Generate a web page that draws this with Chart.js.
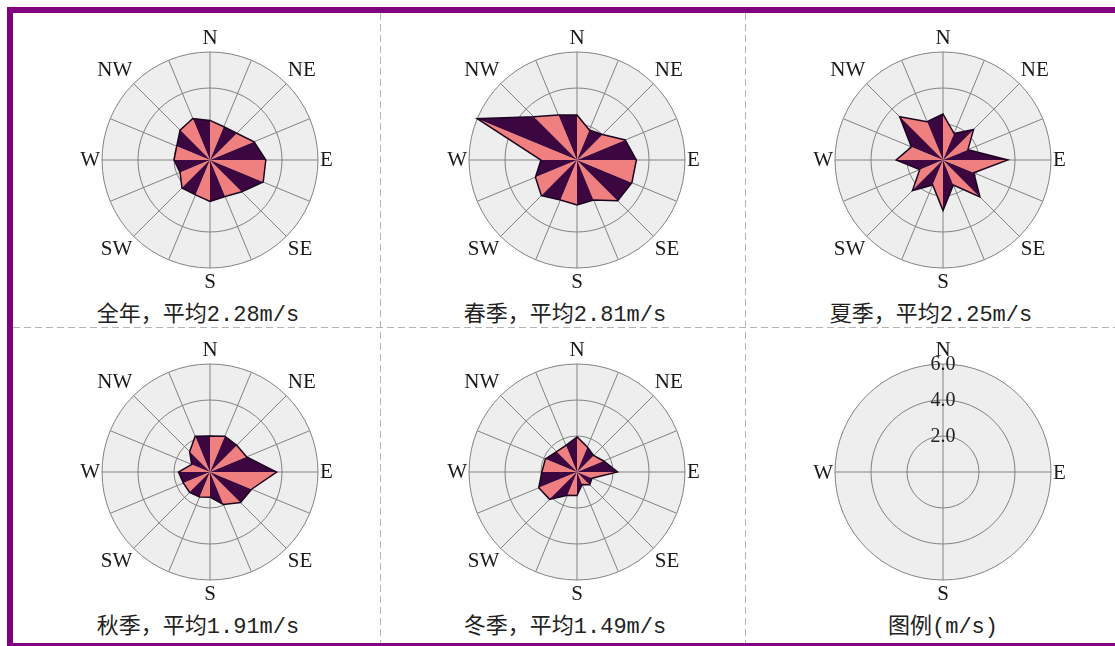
<!DOCTYPE html>
<html>
<head>
<meta charset="utf-8">
<script src="https://cdn.jsdelivr.net/npm/chart.js@4.4.0/dist/chart.umd.min.js"></script>
<style>
  html, body { margin: 0; padding: 0; background: #fff; overflow: hidden; }
  body { width: 1115px; height: 646px; position: relative; }
  #frame {
    position: absolute; left: 7px; top: 7px;
    width: 1112px; height: 630px;
    border: 6px solid #800080; background: #fff;
  }
  .vdash, .hdash { position: absolute; }
  .vdash {
    top: 13px; height: 630px; width: 1px;
    background: repeating-linear-gradient(to bottom, #b4b4b4 0 7px, transparent 7px 11px);
  }
  .hdash {
    left: 13px; width: 1102px; height: 1px; top: 327px;
    background: repeating-linear-gradient(to right, #b4b4b4 0 7px, transparent 7px 11px);
  }
  canvas { position: absolute; z-index: 2; }
  .cap {
    position: absolute; width: 320px; text-align: center;
    font: 22px/26px 'Liberation Mono', 'Noto Sans CJK SC', monospace;
    color: #222; white-space: nowrap;
  }
</style>
</head>
<body>
<div id="frame"></div>
<div class="vdash" style="left:380px"></div>
<div class="vdash" style="left:745px"></div>
<div class="hdash"></div>

<script>
// wind directions, clockwise from north
const dirs = ['N', 'NNE', 'NE', 'ENE', 'E', 'ESE', 'SE', 'SSE',
              'S', 'SSW', 'SW', 'WSW', 'W', 'WNW', 'NW', 'NNW'];

const seasons = ['全年', '春季', '夏季', '秋季', '冬季'];
const means = [2.28, 2.81, 2.25, 1.91, 1.49];

// mean wind speed per direction (m/s)
const annual = [2.2, 2.0, 2.1, 2.65, 3.1, 3.2, 2.5, 2.2, 2.3, 2.1, 2.2, 1.8, 2.0, 2.0, 2.35, 2.5];
const spring = [2.5, 1.8, 2.0, 2.9, 3.3, 3.3, 3.2, 2.4, 2.5, 2.4, 2.8, 2.5, 2.0, 6.0, 3.4, 2.7];
const summer = [2.55, 1.6, 2.4, 1.5, 3.6, 1.85, 2.9, 1.5, 2.8, 1.5, 2.4, 1.4, 2.6, 1.9, 3.4, 2.3];
const autumn = [2.0, 2.15, 2.1, 2.2, 3.7, 2.5, 2.4, 1.95, 1.4, 1.5, 1.6, 1.6, 1.75, 1.1, 1.6, 2.15];
const winter = [1.95, 1.5, 1.3, 1.6, 2.25, 0.9, 1.0, 0.75, 1.3, 1.4, 2.15, 2.3, 1.95, 1.9, 1.6, 1.6];
const speeds = [annual, spring, summer, autumn, winter];

// key panel
const keyDirs = ['N', 'E', 'S', 'W'];
const keyTitle = '图例(m/s)';
const speedMax = 6;
const speedStep = 2;

const centers = [[210, 160], [577, 160], [943, 160], [210, 472], [577, 472], [943, 472]];
const pink = '#f08080';
const plum = '#3c0641';
const serif = "'Liberation Serif', 'Times New Roman', serif";

function radialScale(showNames) {
  return {
    r: {
      min: 0,
      max: speedMax,
      backgroundColor: '#eeeeee',
      grid: { circular: true, color: '#828282', lineWidth: 1 },
      angleLines: { color: '#828282', lineWidth: 1 },
      ticks: { display: false, stepSize: speedStep },
      pointLabels: {
        display: showNames,
        padding: 2,
        color: '#1a1a1a',
        font: { family: serif, size: 21, lineHeight: '24px' },
        // only the eight main points get a name
        callback: l => (l.length <= 2 ? l : '')
      }
    }
  };
}

// the key writes its own compass names and ring values
const keyText = {
  id: 'keyText',
  afterDraw(chart) {
    const s = chart.scales.r;
    const ctx = chart.ctx;
    const names = chart.data.labels;
    ctx.save();
    ctx.fillStyle = '#1a1a1a';
    ctx.textBaseline = 'middle';
    ctx.font = "21px 'Liberation Serif', serif";
    names.forEach((name, i) => {
      const p = s.getPointPosition(i, s.drawingArea + 2);
      if (name === 'N') {
        ctx.textAlign = 'center';
        ctx.fillText(name, p.x, p.y - 12);
      } else if (name === 'S') {
        ctx.textAlign = 'center';
        ctx.fillText(name, p.x, p.y + 12);
      } else {
        ctx.textAlign = name === 'E' ? 'left' : 'right';
        ctx.fillText(name, p.x, p.y + 1);
      }
    });
    ctx.font = "20px 'Liberation Serif', serif";
    ctx.fillStyle = '#222';
    ctx.textAlign = 'center';
    s.ticks.forEach(t => {
      if (t.value <= 0) return;
      const d = s.getDistanceFromCenterForValue(t.value);
      ctx.fillText(t.value.toFixed(1), s.xCenter, s.yCenter - d + 1);
    });
    ctx.restore();
  }
};

function baseOptions(showNames) {
  return {
    responsive: false,
    animation: false,
    events: [],
    plugins: { legend: { display: false }, tooltip: { enabled: false } },
    scales: radialScale(showNames)
  };
}

function addCanvas(x, y, w, h) {
  const c = document.createElement('canvas');
  c.width = w;
  c.height = h;
  c.style.left = x + 'px';
  c.style.top = y + 'px';
  document.body.appendChild(c);
  return c.getContext('2d');
}

function addCaption(text, cx, cy) {
  const d = document.createElement('div');
  d.className = 'cap';
  d.textContent = text;
  d.style.left = (cx - 160) + 'px';
  d.style.top = (cy - 13) + 'px';
  document.body.appendChild(d);
}

// one wedge per direction pair, alternating colours, plus the outline
function roseDatasets(values) {
  const wedges = dirs.map((d, i) => {
    const j = (i + 1) % dirs.length;
    return {
      data: values.map((v, n) => (n === i || n === j ? v : 0)),
      backgroundColor: i % 2 ? plum : pink,
      borderColor: 'rgba(0,0,0,0)',
      borderWidth: 0,
      fill: true,
      pointRadius: 0,
      order: 1
    };
  });
  const outline = {
    data: values,
    borderColor: '#1c0420',
    borderWidth: 1.5,
    fill: false,
    pointRadius: 0,
    order: 0
  };
  return [outline, ...wedges];
}

speeds.forEach((values, k) => {
  const [cx, cy] = centers[k];
  const ctx = addCanvas(cx - 165, cy - 134, 330, 268);
  new Chart(ctx, {
    type: 'radar',
    data: { labels: dirs, datasets: roseDatasets(values) },
    options: baseOptions(true)
  });
  addCaption(seasons[k] + '，平均' + means[k].toFixed(2) + 'm/s', cx - 12, cy + 156);
});

// speed key: the padding leaves room for the names drawn by keyText
{
  const [cx, cy] = centers[5];
  const ctx = addCanvas(cx - 165, cy - 134, 330, 268);
  const opts = baseOptions(false);
  opts.layout = { padding: { top: 26, bottom: 26 } };
  new Chart(ctx, {
    type: 'radar',
    data: { labels: keyDirs, datasets: [{ data: [], pointRadius: 0 }] },
    options: opts,
    plugins: [keyText]
  });
  addCaption(keyTitle, cx, cy + 156);
}
</script>
</body>
</html>
